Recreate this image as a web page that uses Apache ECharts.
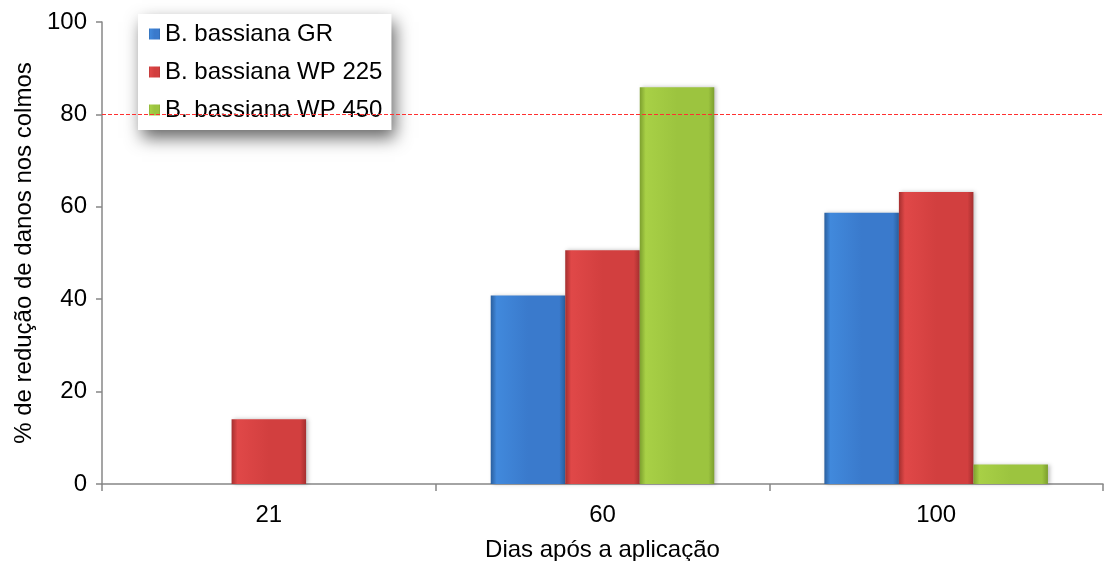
<!DOCTYPE html>
<html>
<head>
<meta charset="utf-8">
<script src="https://cdn.jsdelivr.net/npm/echarts@6/dist/echarts.min.js"></script>
<style>
html,body{margin:0;padding:0;background:#fff;}
#chart{width:1106px;height:561px;}
</style>
</head>
<body>
<div id="chart"></div>
<script>
const categories = ['21', '60', '100'];
const seriesNames = ['B. bassiana GR', 'B. bassiana WP 225', 'B. bassiana WP 450'];
const grValues = [null, 40.8, 58.7];
const wp225Values = [14.0, 50.6, 63.2];
const wp450Values = [null, 85.9, 4.2];
const referenceLine = 80;
const yTicks = { min: 0, max: 100, interval: 20 };

function grad(edge, mid, light) {
  return new echarts.graphic.LinearGradient(0, 0, 1, 0, [
    { offset: 0, color: edge },
    { offset: 0.08, color: light },
    { offset: 0.5, color: mid },
    { offset: 0.92, color: mid },
    { offset: 1, color: edge }
  ]);
}
const styles = [
  grad('#2a5f9e', '#3a7acc', '#4189dc'),
  grad('#a52f2f', '#d23f3f', '#e04848'),
  grad('#7c9f2e', '#9cc43f', '#a8d046')
];

const chart = echarts.init(document.getElementById('chart'), null, { renderer: 'canvas' });
const font = 'Liberation Sans, Arial, sans-serif';
const dataSets = [grValues, wp225Values, wp450Values];
const series = dataSets.map((d, i) => ({
  name: seriesNames[i],
  type: 'bar',
  data: d,
  barGap: '0%',
  barCategoryGap: '33%',
  itemStyle: {
    color: styles[i],
    shadowColor: 'rgba(0,0,0,0.25)',
    shadowBlur: 4,
    shadowOffsetX: 2,
    shadowOffsetY: 0
  }
}));
series[0].markLine = {
  silent: true,
  symbol: ['none', 'none'],
  label: { show: false },
  lineStyle: { color: '#ff3030', type: [4, 2], width: 1, opacity: 1 },
  emphasis: { disabled: true },
  data: [{ yAxis: referenceLine }]
};

chart.setOption({
  animation: false,
  textStyle: { fontFamily: font },
  color: ['#3a7acc', '#d23f3f', '#9cc43f'],
  grid: { left: 102, right: 3, top: 22, bottom: 77, containLabel: false, outerBoundsMode: 'none' },
  legend: {
    orient: 'vertical',
    left: 138,
    top: 14,
    padding: [8, 9, 8, 11],
    itemGap: 14,
    itemWidth: 11,
    itemHeight: 11,
    icon: 'rect',
    backgroundColor: '#fff',
    shadowColor: 'rgba(0,0,0,0.6)',
    shadowBlur: 16,
    shadowOffsetX: 4,
    shadowOffsetY: 8,
    textStyle: { fontSize: 24, color: '#000', fontFamily: font, lineHeight: 24 },
    data: seriesNames
  },
  xAxis: {
    type: 'category',
    data: categories,
    name: 'Dias após a aplicação',
    nameLocation: 'middle',
    nameGap: 54,
    nameTextStyle: { fontSize: 24, color: '#000', fontFamily: font },
    axisLine: { lineStyle: { color: '#878787', width: 1.5 } },
    axisTick: { show: true, length: 7, lineStyle: { color: '#878787', width: 1.5 } },
    axisLabel: { fontSize: 24, color: '#000', margin: 19, fontFamily: font }
  },
  yAxis: {
    type: 'value',
    min: yTicks.min,
    max: yTicks.max,
    interval: yTicks.interval,
    name: '% de redução de danos nos colmos',
    nameLocation: 'middle',
    nameGap: 66,
    nameRotate: 90,
    nameTextStyle: { fontSize: 24, color: '#000', fontFamily: font },
    axisLine: { show: true, lineStyle: { color: '#878787', width: 1.5 } },
    axisTick: { show: true, length: 6, lineStyle: { color: '#878787', width: 1.5 } },
    splitLine: { show: false },
    axisLabel: { fontSize: 24, color: '#000', margin: 15, fontFamily: font }
  },
  series: series
});
</script>
</body>
</html>
